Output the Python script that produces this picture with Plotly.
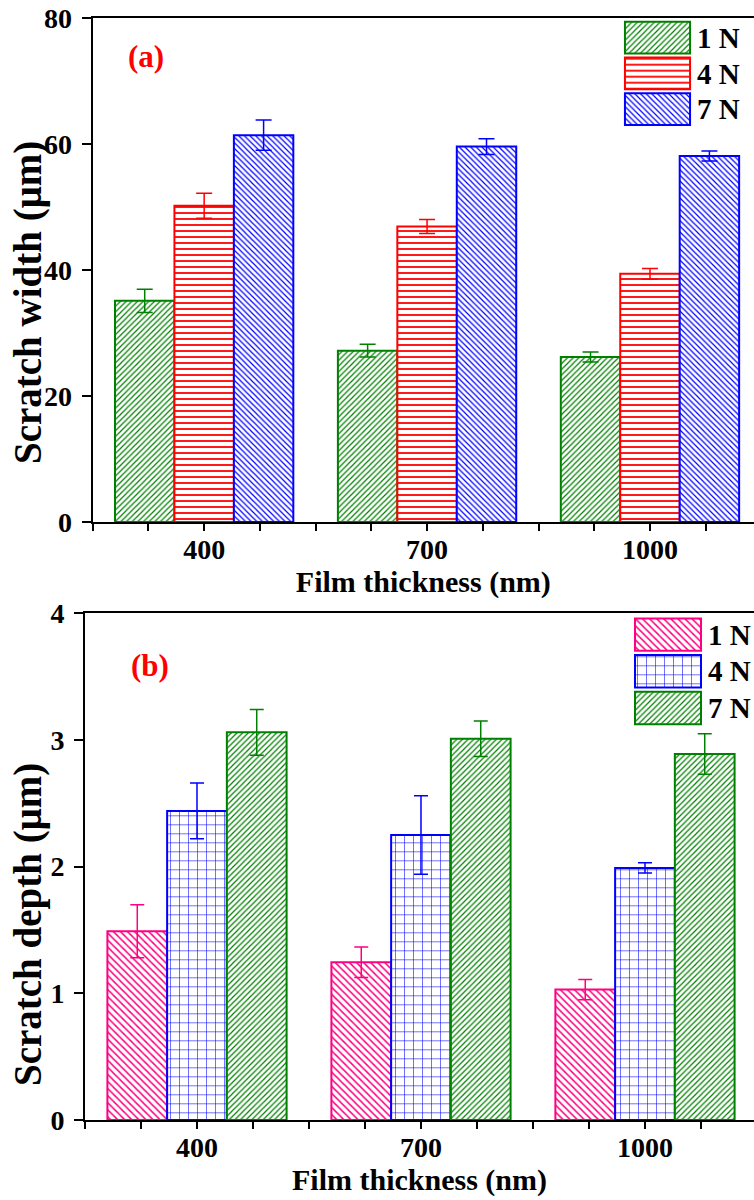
import plotly.graph_objects as go

# ---------------- data ----------------
thickness = [400, 700, 1000]
loads = ["1 N", "4 N", "7 N"]

width_1N = [35.1, 27.2, 26.2]
width_1N_err = [1.85, 1.0, 0.8]
width_4N = [50.2, 46.9, 39.4]
width_4N_err = [2.0, 1.1, 0.85]
width_7N = [61.4, 59.6, 58.1]
width_7N_err = [2.4, 1.25, 0.8]

depth_1N = [1.49, 1.245, 1.03]
depth_1N_err = [0.21, 0.12, 0.08]
depth_4N = [2.44, 2.25, 1.99]
depth_4N_err = [0.22, 0.31, 0.04]
depth_7N = [3.06, 3.01, 2.89]
depth_7N_err = [0.18, 0.14, 0.16]

legend_box = [1, 1, 1]

# ---------------- styles ----------------
W, H = 754, 1200
FONT = "Liberation Serif"
GREEN, RED, BLUE, PINK = "#008000", "#ff0000", "#0000ff", "#ff0080"

top_styles = [(GREEN, "/", 4), (RED, "-", 6), (BLUE, "\\", 4)]
bot_styles = [(PINK, "\\", 5), (BLUE, "+", 9), (GREEN, "/", 4)]

BAR_W = 80
offsets = [-120, -40, 40]


def px_x(p):
    return p / W


def px_y(p):
    return 1 - p / H


def solid(shape):
    return 0.12 if shape == "+" else 0.3


fig = go.Figure()

top_series = [(width_1N, width_1N_err), (width_4N, width_4N_err), (width_7N, width_7N_err)]
bot_series = [(depth_1N, depth_1N_err), (depth_4N, depth_4N_err), (depth_7N, depth_7N_err)]

for (vals, errs), (col, shp, sz), off, name in zip(top_series, top_styles, offsets, loads):
    fig.add_trace(go.Bar(
        x=thickness, y=vals, name=name, width=BAR_W, offset=off,
        xaxis="x", yaxis="y", showlegend=False,
        marker=dict(color="white", line=dict(color=col, width=2),
                    pattern=dict(shape=shp, fgcolor=col, bgcolor="white", size=sz,
                                 solidity=solid(shp), fillmode="replace")),
        error_y=dict(type="data", array=errs, visible=True, color=col, thickness=1.5, width=8),
    ))

for (vals, errs), (col, shp, sz), off, name in zip(bot_series, bot_styles, offsets, loads):
    fig.add_trace(go.Bar(
        x=thickness, y=vals, name=name, width=BAR_W, offset=off,
        xaxis="x2", yaxis="y2", showlegend=False,
        marker=dict(color="white", line=dict(color=col, width=2),
                    pattern=dict(shape=shp, fgcolor=col, bgcolor="white", size=sz,
                                 solidity=solid(shp), fillmode="replace")),
        error_y=dict(type="data", array=errs, visible=True, color=col, thickness=1.5, width=7),
    ))

# custom legends (pattern boxes) built from the series names
for styles, xa, ya in [(top_styles, "x3", "y3"), (bot_styles, "x4", "y4")]:
    fig.add_trace(go.Bar(
        y=loads, x=legend_box, orientation="h", xaxis=xa, yaxis=ya, showlegend=False,
        width=0.885, hoverinfo="skip",
        marker=dict(color="white", line=dict(color=[s[0] for s in styles], width=2),
                    pattern=dict(shape=[s[1] for s in styles], fgcolor=[s[0] for s in styles],
                                 bgcolor="white", size=[s[2] for s in styles],
                                 solidity=[solid(s[1]) for s in styles],
                                 fillmode="replace")),
    ))

tickfont = dict(family=FONT, size=28, color="black", weight="bold")
legfont = dict(family=FONT, size=29, color="black", weight="bold")
titlefont = dict(family=FONT, size=30, color="black", weight="bold")

common_x = dict(
    tickvals=thickness, ticktext=[str(t) for t in thickness],
    ticks="outside", ticklen=7, tickwidth=1.5, tickcolor="black",
    minor=dict(dtick=75, tick0=250, ticks="outside", ticklen=7, tickwidth=1.5, tickcolor="black"),
    showline=True, linecolor="black", linewidth=2, mirror=True,
    showgrid=False, zeroline=False, tickfont=tickfont, automargin=False,
    ticklabelstandoff=-6,
    title=dict(text="Film thickness (nm)", font=titlefont, standoff=4),
)
common_y = dict(
    ticks="outside", ticklen=9, tickwidth=2, tickcolor="black",
    showline=True, linecolor="black", linewidth=2, mirror=False,
    showgrid=False, zeroline=False, tickfont=tickfont, automargin=False,
    ticklabelstandoff=4,
)

ann_common = dict(xref="paper", yref="paper", xanchor="center", yanchor="middle", showarrow=False)

fig.update_layout(
    width=W, height=H, margin=dict(l=0, r=0, t=0, b=0),
    paper_bgcolor="white", plot_bgcolor="white", barmode="overlay",
    xaxis=dict(domain=[px_x(92.7), 1.0], range=[250, 1140], anchor="y", **common_x),
    yaxis=dict(domain=[px_y(522), px_y(18)], range=[0, 80], dtick=20, anchor="x", **common_y),
    xaxis2=dict(domain=[px_x(85), 1.0], range=[250, 1146], anchor="y2", **common_x),
    yaxis2=dict(domain=[px_y(1120), px_y(613.3)], range=[0, 4], dtick=1, anchor="x2", **common_y),
    xaxis3=dict(domain=[px_x(623), px_x(692)], range=[-0.03, 1.03], anchor="y3", visible=False),
    yaxis3=dict(domain=[px_y(127.1), px_y(19.7)], anchor="x3", autorange="reversed",
                side="right", showline=False, showgrid=False, zeroline=False, ticks="",
                ticklabelstandoff=4, tickfont=legfont, automargin=False),
    xaxis4=dict(domain=[px_x(633), px_x(703)], range=[-0.03, 1.03], anchor="y4", visible=False),
    yaxis4=dict(domain=[px_y(726.3), px_y(616.3)], anchor="x4", autorange="reversed",
                side="right", showline=False, showgrid=False, zeroline=False, ticks="",
                ticklabelstandoff=4, tickfont=legfont, automargin=False),
    annotations=[
        dict(text="(a)", x=px_x(146), y=px_y(56.5), **ann_common,
             font=dict(family=FONT, size=31, color="red", weight="bold")),
        dict(text="(b)", x=px_x(150), y=px_y(665), **ann_common,
             font=dict(family=FONT, size=31, color="red", weight="bold")),
        dict(text="Scratch width (μm)", x=px_x(28), y=px_y(303), textangle=-90, **ann_common,
             font=dict(family=FONT, size=39, color="black", weight="bold")),
        dict(text="Scratch depth (μm)", x=px_x(28), y=px_y(925), textangle=-90, **ann_common,
             font=dict(family=FONT, size=39, color="black", weight="bold")),
    ],
)

fig.write_html("out.html")
